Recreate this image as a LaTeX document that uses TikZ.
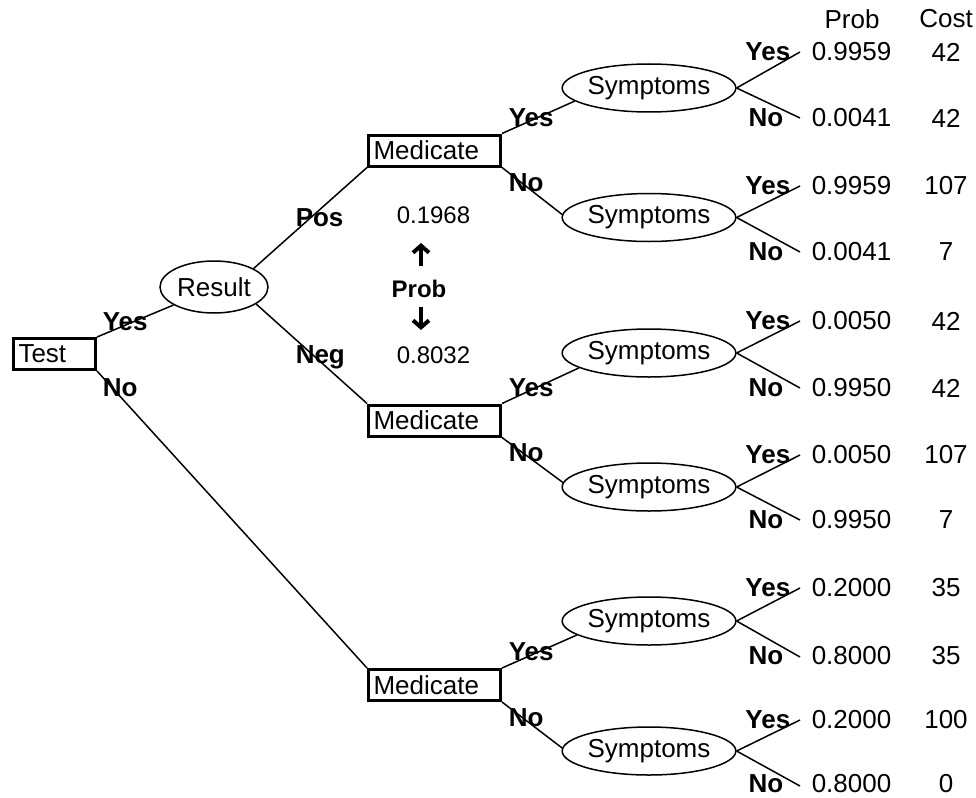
\documentclass[tikz,border=0pt]{standalone}
\usepackage{fontspec}
\setmainfont{Liberation Sans}
\usetikzlibrary{shapes.geometric,arrows.meta}
\begin{document}
\begin{tikzpicture}[x=1pt,y=-1pt,
  every node/.style={inner sep=0pt},
  font=\fontsize{26}{30}\selectfont,
  line width=1.5pt,
  box/.style={draw, rectangle, line width=3pt, minimum height=31pt, inner xsep=5pt, inner ysep=0pt, align=left},
  chance/.style={draw, ellipse, line width=1.5pt, inner sep=0pt},
  sym/.style={chance, minimum width=172pt, minimum height=48pt},
  lbl/.style={font=\fontsize{26}{30}\selectfont\bfseries, anchor=west},
  leaflbl/.style={font=\fontsize{26}{30}\selectfont\bfseries, anchor=east},
  val/.style={anchor=west},
  midnum/.style={anchor=west, font=\fontsize{24}{28}\selectfont},
  bigarrow/.style={line width=4.5pt, -{Straight Barb[length=7pt,width=16pt,line width=4pt]}}
]
\useasboundingbox (0,0) rectangle (976,797);

% decision and chance nodes
\node[box, text width=72pt] (T) at (54.5,354) {Test};
\node[chance, minimum width=108pt, minimum height=52pt] (R) at (214,287) {Result};
\node[box, text width=122pt] (M1) at (434.5,150.5) {Medicate};
\node[box, text width=122pt] (M2) at (434.5,420.5) {Medicate};
\node[box, text width=122pt] (M3) at (434.5,685) {Medicate};
\foreach \n/\y in {1/88,2/217.5,3/353,4/487,5/621,6/751}
  \node[sym] (S\n) at (649,\y) {Symptoms};

% main connectors
\draw (T.north east) -- (R.204);
\draw (T.south east) -- (M3.north west);
\draw (R.25) -- (M1.south west);
\draw (R.-22) -- (M2.north west);
\draw (M1.north east) -- (S1.190);
\draw (M1.south east) -- (S2.178);
\draw (M2.north east) -- (S3.192);
\draw (M2.south east) -- (S4.177);
\draw (M3.north east) -- (S5.191);
\draw (M3.south east) -- (S6.178);

% edge labels
\node[lbl] (tY) at (102,322) {Yes};
\node[lbl] (tN) at (102,388) {No};
\node[lbl] (rP) at (295,218) {Pos};
\node[lbl] (rN) at (295,357) {Neg};
\node[lbl] (m1Y) at (508,118) {Yes};
\node[lbl] (m1N) at (508,183) {No};
\node[lbl] (m2Y) at (508,388) {Yes};
\node[lbl] (m2N) at (508,453) {No};
\node[lbl] (m3Y) at (508,652) {Yes};
\node[lbl] (m3N) at (508,718) {No};

% middle probability annotation
\node[midnum] (p1) at (396,215) {0.1968};
\node[font=\fontsize{24}{28}\selectfont\bfseries] (pb) at (419,289) {Prob};
\node[midnum] (p2) at (396,355) {0.8032};
\coordinate (auS) at (421,266);
\coordinate (auE) at (421,243);
\coordinate (adS) at (421,307);
\coordinate (adE) at (421,330);
\draw[bigarrow] (auS) -- (auE);
\draw[bigarrow] (adS) -- (adE);

% header
\node (hp) at (852,19) {Prob};
\node (hc) at (946,19) {Cost};

% leaves
\foreach \n/\ya/\ta/\va/\ca/\yb/\tb/\vb/\cb in {
  1/52/52/0.9959/42/118/118/0.0041/42,
  2/186/186/0.9959/107/252/252/0.0041/7,
  3/321/321/0.0050/42/388/388/0.9950/42,
  4/455/455/0.0050/107/520/520/0.9950/7,
  5/588/588/0.2000/35/657/656/0.8000/35,
  6/720/720/0.2000/100/786/784/0.8000/0}{
  \coordinate (Ly\n) at (800,\ya);
  \coordinate (Ln\n) at (800,\yb);
  \draw (S\n.east) -- (Ly\n);
  \draw (S\n.east) -- (Ln\n);
  \node[leaflbl] (ly\n) at (791,\ta) {Yes};
  \node[leaflbl] (ln\n) at (784,\tb) {No};
  \node[val] (vy\n) at (811,\ta) {\va};
  \node[val] (vn\n) at (811,\tb) {\vb};
  \node (cy\n) at (946,\ta) {\ca};
  \node (cn\n) at (946,\tb) {\cb};
}
\end{tikzpicture}
\end{document}
